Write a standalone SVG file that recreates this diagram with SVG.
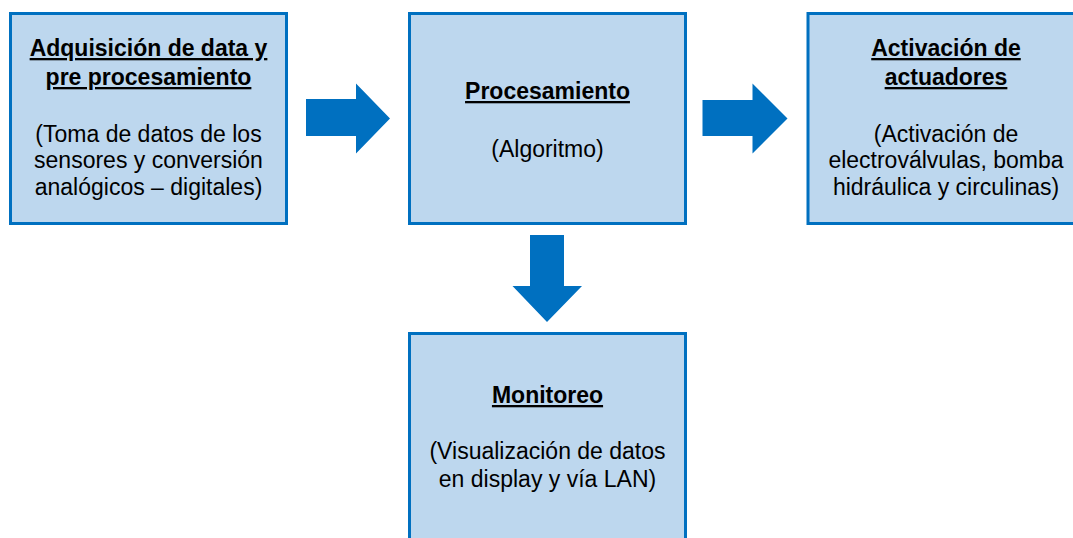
<svg xmlns="http://www.w3.org/2000/svg" width="1073" height="538" viewBox="0 0 1073 538">
<style>
.box{fill:#BDD7EE;stroke:#0070C0;stroke-width:3}
.arrow{fill:#0070C0}
text{font-family:"Liberation Sans",Arial,sans-serif;font-size:23px;fill:#000;text-anchor:middle}
.t{font-weight:bold;text-decoration:underline}
</style>
<rect x="0" y="0" width="1073" height="538" fill="#fff"/>
<g id="connectors">
<polygon class="arrow" points="306,99 356,99 356,83.5 390,118.5 356,153.5 356,136 306,136"/>
<polygon class="arrow" points="702.5,100 752.5,100 752.5,83.5 787.5,118.5 752.5,153.5 752.5,136 702.5,136"/>
<polygon class="arrow" points="530,235 564,235 564,286 582,286 547,322 512.5,286 530,286"/>
</g>
<g id="node-adquisicion">
<rect class="box" x="10.5" y="13.5" width="276" height="210"/>
<text x="148.5" y="56" class="t">Adquisición de data y</text>
<text x="148.5" y="85" class="t">pre procesamiento</text>
<text x="148.5" y="141.5">(Toma de datos de los</text>
<text x="148.5" y="168.3">sensores y conversión</text>
<text x="148.5" y="195">analógicos – digitales)</text>
</g>
<g id="node-procesamiento">
<rect class="box" x="409.5" y="13.5" width="276" height="210"/>
<text x="547.5" y="99" class="t">Procesamiento</text>
<text x="547.5" y="157">(Algoritmo)</text>
</g>
<g id="node-activacion">
<rect class="box" x="808" y="13.5" width="276" height="210"/>
<text x="946" y="56" class="t">Activación de</text>
<text x="946" y="85" class="t">actuadores</text>
<text x="946" y="141.5">(Activación de</text>
<text x="946" y="168.3">electroválvulas, bomba</text>
<text x="946" y="195">hidráulica y circulinas)</text>
</g>
<g id="node-monitoreo">
<rect class="box" x="409.5" y="333.5" width="276" height="210"/>
<text x="547.5" y="403" class="t">Monitoreo</text>
<text x="547.5" y="459">(Visualización de datos</text>
<text x="547.5" y="486.5">en display y vía LAN)</text>
</g>
</svg>
